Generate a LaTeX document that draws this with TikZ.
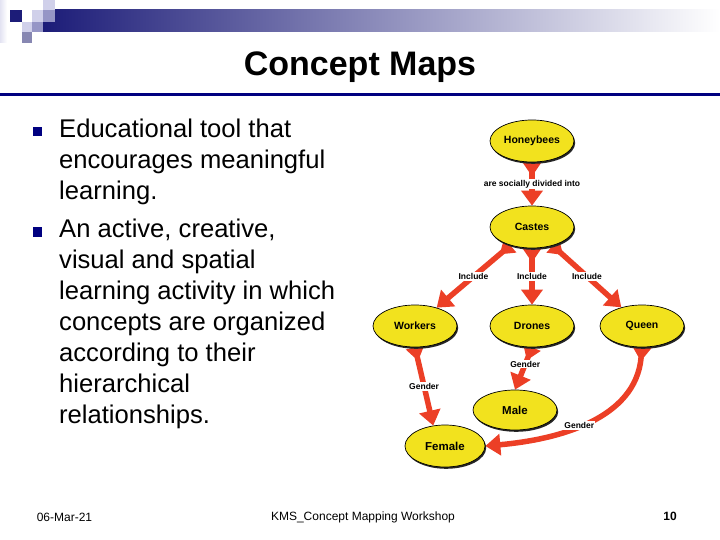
\documentclass[tikz,border=0pt]{standalone}
\usepackage{fontspec}
\setmainfont{Liberation Sans}
\usetikzlibrary{shapes.geometric, arrows.meta, positioning, shadows, backgrounds}
\definecolor{slidenavy}{HTML}{000080}
\definecolor{barnavy}{HTML}{1C1C78}
\definecolor{barmid}{HTML}{9C9CBC}
\definecolor{sqpale}{HTML}{D0D0EA}
\definecolor{sqmid}{HTML}{9696C6}
\definecolor{mapyellow}{HTML}{F2E21E}
\definecolor{mapred}{HTML}{EC3F26}

\begin{document}
\begin{tikzpicture}[x=1pt, y=-1pt,
  concept/.style={ellipse, draw=black, line width=0.7pt, fill=mapyellow, minimum width=84pt, minimum height=42pt, inner sep=0pt, font=\bfseries\fontsize{10.5}{12}\selectfont, drop shadow={shadow xshift=1.2pt, shadow yshift=-1.8pt, fill=black!85, opacity=1}},
  link/.style={draw=mapred, line width=5.5pt, {Triangle[reversed, width=18pt, length=14pt]}-{Triangle[width=21pt, length=15pt]}},
  linklabel/.style={fill=white, inner sep=1pt, font=\bfseries\fontsize{8.5}{10}\selectfont},
  bulletsq/.style={rectangle, fill=slidenavy, minimum size=9pt, inner sep=0pt},
  bodytext/.style={align=left, inner sep=0pt, font=\fontsize{25.6}{31}\selectfont},
  foot/.style={inner sep=0pt, font=\fontsize{12}{14}\selectfont}
]
\useasboundingbox (0,0) rectangle (720,540);

% header bar and squares
\shade[left color=barnavy, middle color=barmid, right color=white] (43,10) rectangle (720,32);
\fill[left color=sqpale!60, right color=white] (0,0) rectangle (7,43);
\fill[barnavy] (10,10) rectangle (22,22);
\fill[sqpale] (22,22) rectangle (32,32);
\fill[sqpale] (32,10) rectangle (43,22);
\fill[sqpale] (43,0) rectangle (55,10);
\fill[sqmid] (43,10) rectangle (55,22);
\fill[sqmid] (32,22) rectangle (43,32);
\fill[sqmid!90!black] (22,32) rectangle (32,43);
\fill[slidenavy] (0,93) rectangle (720,96);

% title
\node[inner sep=0pt, font=\bfseries\fontsize{34}{40}\selectfont] (title) at (360,67) {Concept Maps};

% bullets (base anchor sits on the last line)
\node[bulletsq] (bul1) at (37.5,132) {};
\node[bodytext, anchor=base west] (point1) at (59,200) {Educational tool that\\encourages meaningful\\learning.};
\node[bulletsq] (bul2) at (37.5,232) {};
\node[bodytext, anchor=base west] (point2) at (59,423) {An active, creative,\\visual and spatial\\learning activity in which\\concepts are organized\\according to their\\hierarchical\\relationships.};

% concept map
\node[concept] (honeybees) at (532,141) {Honeybees};
\node[concept] (castes) at (532,227) {Castes};
\node[concept] (workers) at (415,326) {Workers};
\node[concept] (drones) at (532,326) {Drones};
\node[concept] (queen) at (642,326) {Queen};
\node[concept, minimum height=40pt, font=\bfseries\fontsize{11.5}{13}\selectfont] (male) at (515,410) {Male};
\node[concept, minimum width=80pt, font=\bfseries\fontsize{11.5}{13}\selectfont] (female) at (445,446) {Female};

\begin{scope}[on background layer]
\draw[link] (honeybees) -- node[linklabel] {are socially divided into} (castes);
\draw[link] (castes) -- node[linklabel] {Include} (workers);
\draw[link] (castes) -- node[linklabel] {Include} (drones);
\draw[link] (castes) -- node[linklabel] {Include} (queen);
\draw[link] (workers.south) -- node[linklabel] {Gender} (female.120);
\draw[link] (drones.south) -- node[linklabel, pos=0.4] {Gender} (male.north);
\draw[link] (queen.south) to[out=-95, in=5] node[linklabel, pos=0.55] {Gender} (female.east);
\end{scope}

% footer
\node[foot] (date) at (64.5,517) {06-Mar-21};
\node[foot] (event) at (363,517) {KMS\_Concept Mapping Workshop};
\node[foot, font=\bfseries\fontsize{12}{14}\selectfont] (page) at (670,516) {10};
\end{tikzpicture}
\end{document}
